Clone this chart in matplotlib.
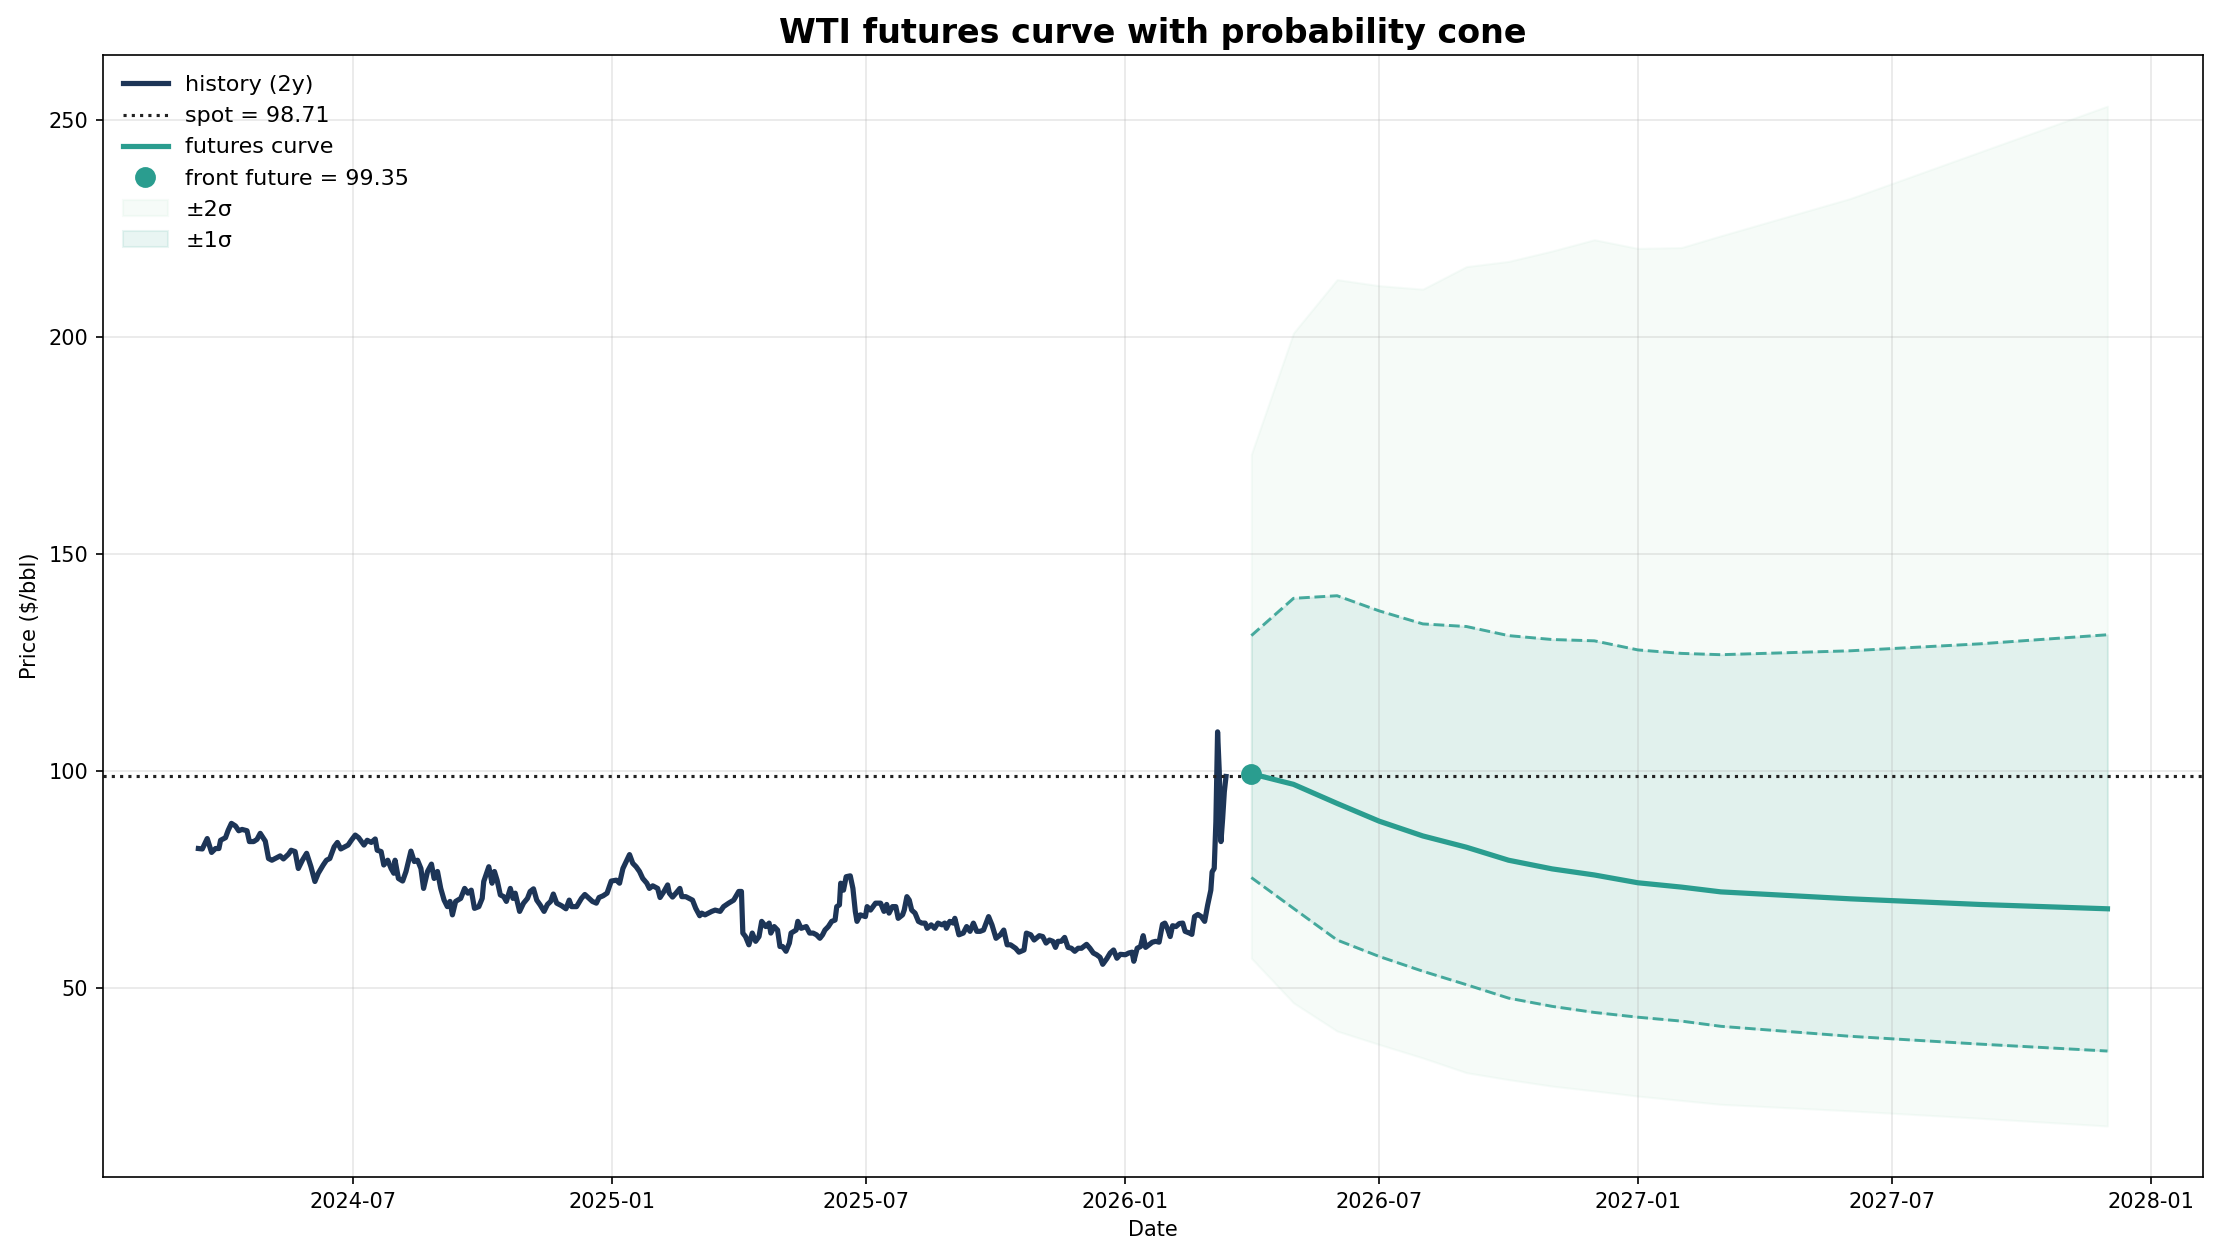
import numpy as np
import pandas as pd
import matplotlib
matplotlib.use('Agg')
import matplotlib.pyplot as plt
import matplotlib.dates as mdates

# history: days after start date, price in $/bbl
hist_start = pd.Timestamp('2024-03-13')
hist_day = [
    0.0, 2.8, 6.3, 9.4, 12.2, 14.6, 15.8, 19.3, 21.2, 23.5, 26.4, 28.7, 31.1, 34.6, 36.3, 39.3,
    41.7, 44.0, 47.6, 49.9, 52.3, 55.8, 58.2, 60.5, 64.1, 66.0, 68.8, 71.1, 74.0, 77.0, 80.1,
    82.9, 85.3, 88.8, 91.1, 93.5, 96.6, 98.9, 101.3, 104.1, 106.5, 108.8, 111.6, 114.0, 117.8,
    120.1, 123.0, 125.8, 127.2, 130.0, 131.9, 134.7, 137.1, 139.0, 139.9, 142.3, 145.3, 147.7,
    151.2, 153.6, 155.9, 158.3, 160.2, 163.0, 165.8, 167.7, 170.1, 172.4, 174.8, 177.1, 179.0,
    180.7, 183.0, 186.6, 189.4, 191.7, 194.1, 196.4, 199.5, 201.9, 203.0, 206.6, 208.9, 210.6,
    212.5, 214.8, 217.2, 219.1, 221.9, 223.8, 225.4, 228.5, 231.3, 234.1, 236.0, 238.4, 240.7,
    243.1, 245.9, 248.3, 250.6, 252.5, 254.9, 258.4, 261.5, 263.8, 265.5, 269.0, 272.5, 274.9,
    278.0, 280.3, 283.1, 285.0, 287.9, 290.7, 293.7, 297.3, 299.6, 302.0, 304.8, 306.7, 309.0,
    311.4, 313.8, 316.1, 319.0, 320.8, 323.2, 326.7, 328.4, 331.4, 333.8, 335.0, 337.3, 339.7,
    342.5, 343.9, 346.7, 349.1, 351.5, 353.8, 356.6,
    358.0, 360.4, 362.8, 365.2, 367.6, 371.2, 373.6, 377.2, 380.8, 384.4, 386.3, 387.3, 389.2,
    391.6, 394.0, 396.4, 398.8, 400.7, 403.6, 406.0, 407.2, 409.6, 412.0, 413.7, 415.6, 418.0,
    420.4, 421.6, 425.2, 426.4, 428.8, 432.4, 434.8, 437.3, 439.7, 442.1, 444.0, 445.7, 448.1,
    450.5, 452.9, 454.1, 456.0, 456.9, 458.9, 460.8, 463.7, 465.6, 467.3, 468.5, 470.9, 474.5,
    475.7, 478.1, 481.7, 485.3, 487.7, 489.6, 491.3, 493.7, 496.1, 497.8, 500.9, 502.1, 504.0,
    505.7, 507.4, 509.8, 512.2, 514.6, 517.0, 518.4, 521.3, 523.7, 526.1, 529.0, 530.9, 532.1,
    534.5, 536.9, 538.1, 541.0, 544.1, 546.5, 548.9, 551.3, 553.7, 556.1, 558.5, 562.1, 564.5,
    567.4, 570.5, 572.9, 575.3, 577.7, 581.3, 583.7, 587.3, 589.0, 592.1, 594.5, 598.2, 600.6,
    603.0, 605.4, 607.8, 609.7, 611.4, 613.8, 616.2, 618.6, 621.0, 623.4, 625.8, 628.2, 631.8,
    634.2, 636.6, 639.0, 641.4, 643.3, 646.2, 648.6, 651.0, 653.4, 655.8, 659.4, 661.8, 664.2,
    665.4, 667.8, 670.2, 672.1, 673.8, 676.2, 678.6, 681.0, 683.4, 685.8, 687.5, 689.4, 691.3,
    693.0, 695.4, 697.8, 700.2, 701.9, 705.0, 706.7, 708.6, 711.0, 713.4, 715.8, 717.9, 720.2,
    721.1, 722.6, 723.8, 725.0, 726.2, 727.4, 728.6, 729.8, 731.0,
]
hist_price = [
    82.1, 82.0, 84.4, 81.2, 82.1, 82.1, 84.0, 84.6, 86.3, 87.9, 87.3, 86.2, 86.5, 86.2, 83.7, 83.7,
    84.2, 85.6, 83.8, 79.8, 79.4, 80.0, 80.4, 79.7, 80.8, 81.7, 81.4, 77.5, 79.4, 81.0, 77.9,
    74.5, 76.4, 78.3, 79.4, 79.8, 82.5, 83.5, 82.0, 82.5, 82.9, 84.0, 85.2, 84.6, 82.9,
    84.0, 83.5, 84.3, 81.7, 81.4, 78.3, 79.4, 77.5, 76.4, 79.4, 75.2, 74.6, 76.8,
    81.5, 79.1, 79.4, 77.5, 72.9, 76.8, 78.5, 75.2, 76.8, 72.9, 70.2, 68.7, 69.9,
    66.8, 69.9, 70.6, 72.9, 71.8, 72.5, 68.3, 68.7, 70.6, 74.5, 77.9, 74.1, 76.8,
    74.8, 71.4, 71.0, 69.9, 72.9, 70.6, 71.8, 67.6, 69.5, 70.6, 72.2, 72.8, 70.2,
    69.1, 67.6, 69.2, 69.9, 71.6, 69.5, 68.9, 68.2, 70.2, 68.7, 68.7, 70.6, 71.5,
    70.6, 69.9, 69.5, 70.8, 71.2, 71.8, 74.6, 74.8, 74.1, 77.5, 79.4, 80.7, 78.7,
    77.9, 76.8, 75.2, 74.1, 72.9, 73.5, 72.9, 70.8, 72.3, 73.7, 71.8, 70.9, 71.8,
    72.9, 71.0, 71.0, 70.6, 70.2, 68.3, 66.6,
    67.2, 66.8, 67.2, 67.6, 67.9, 67.6, 68.7, 69.5, 70.2, 72.2, 72.2, 62.6, 61.8,
    59.9, 62.6, 60.7, 61.8, 65.3, 64.1, 64.9, 62.6, 64.1, 63.3, 59.5, 59.5, 58.4,
    60.3, 62.6, 63.3, 65.3, 63.7, 64.1, 62.6, 62.6, 62.2, 61.4, 62.2, 63.3, 64.1,
    65.3, 65.6, 68.7, 69.1, 74.1, 72.5, 75.6, 75.8, 72.9, 67.6, 65.3, 66.8, 66.4,
    68.7, 67.9, 69.5, 69.5, 67.6, 69.2, 67.2, 68.7, 68.7, 66.0, 66.8, 67.9, 71.0,
    70.2, 67.9, 67.2, 65.3, 64.9, 64.9, 63.7, 64.5, 63.7, 64.9, 64.5, 64.9, 63.7,
    65.3, 64.9, 66.0, 62.2, 62.6, 64.1, 63.0, 64.9, 63.0, 63.0, 63.3, 66.4, 64.5,
    61.4, 62.2, 63.3, 59.9, 59.9, 59.1, 58.2, 58.7, 62.6, 62.2, 61.0, 62.0, 61.8,
    60.3, 61.0, 60.7, 59.3, 60.7, 60.7, 61.6, 59.3, 59.1, 58.4, 59.1, 59.1, 60.0,
    59.1, 58.0, 57.6, 57.0, 55.4, 56.7, 58.0, 58.7, 56.8, 57.7, 57.6, 58.0, 58.2,
    56.1, 59.1, 59.5, 62.0, 59.3, 59.9, 60.5, 60.7, 60.5, 64.6, 64.9, 63.6, 61.8,
    64.3, 64.1, 64.8, 64.9, 63.0, 62.6, 62.3, 66.4, 66.9, 66.4, 65.3, 69.0, 72.5,
    76.7, 77.5, 88.3, 109.0, 99.8, 83.7, 89.0, 95.2, 98.71,
]

spot = 98.71
front_future = 99.35

# futures strip and probability cone
fut_dates = ['2026-04-01', '2026-05-01', '2026-06-01', '2026-07-01', '2026-08-01',
             '2026-09-01', '2026-10-01', '2026-11-01', '2026-12-01', '2027-01-01',
             '2027-02-01', '2027-03-01', '2027-06-01', '2027-09-01', '2027-12-01']
fut_curve = [99.35, 96.9, 92.5, 88.4, 85.0, 82.4, 79.4, 77.4, 76.0, 74.2, 73.2, 72.1, 70.5, 69.2, 68.2]
upper_1s = [131.2, 139.8, 140.4, 136.9, 133.9, 133.3, 131.2, 130.3, 130.0, 127.9, 127.1, 126.8, 127.7, 129.3, 131.4]
lower_1s = [75.4, 68.3, 61.0, 57.2, 53.8, 50.7, 47.6, 45.7, 44.3, 43.2, 42.3, 41.1, 38.8, 37.0, 35.4]
upper_2s = [173.0, 201.0, 213.3, 211.9, 211.1, 216.3, 217.5, 219.9, 222.5, 220.5, 220.7, 223.4, 232.0, 242.7, 253.3]
lower_2s = [56.8, 46.5, 40.0, 36.9, 33.8, 30.4, 28.8, 27.3, 26.2, 25.0, 24.0, 23.1, 21.6, 19.9, 18.1]

navy = '#1d3557'
teal = '#2a9d8f'
mint = '#95d5b2'

hist_dates = hist_start + pd.to_timedelta(np.array(hist_day), unit='D')
fut_dates = pd.to_datetime(fut_dates)

fig = plt.figure(figsize=(2218 / 150, 1259 / 150), dpi=150)
ax = fig.add_axes([0.0464, 0.0651, 0.9468, 0.8911])

band2 = ax.fill_between(fut_dates, lower_2s, upper_2s, color=mint, alpha=0.08, label='±2σ')
band1 = ax.fill_between(fut_dates, lower_1s, upper_1s, color=teal, alpha=0.1, label='±1σ')
ax.plot(fut_dates, upper_1s, color=teal, lw=1.4, ls='--', alpha=0.85)
ax.plot(fut_dates, lower_1s, color=teal, lw=1.4, ls='--', alpha=0.85)

h_hist, = ax.plot(hist_dates, hist_price, color=navy, lw=2.5, label='history (2y)')
h_spot = ax.axhline(spot, color='#222222', ls=':', lw=1.5, label=f'spot = {spot:.2f}')
h_curve, = ax.plot(fut_dates, fut_curve, color=teal, lw=2.5, label='futures curve')
h_front, = ax.plot(fut_dates[:1], [front_future], 'o', color=teal, ms=9, zorder=5,
                   label=f'front future = {front_future:.2f}')

ax.xaxis.set_major_locator(mdates.MonthLocator(bymonth=[1, 7]))
ax.xaxis.set_major_formatter(mdates.DateFormatter('%Y-%m'))
ax.set_yticks([50, 100, 150, 200, 250])
ax.grid(alpha=0.3)

ax.set_title('WTI futures curve with probability cone', fontsize=16, fontweight='bold')
ax.set_xlabel('Date')
ax.set_ylabel('Price ($/bbl)')
ax.legend(handles=[h_hist, h_spot, h_curve, h_front, band2, band1],
          loc='upper left', frameon=False, fontsize=10.7, labelspacing=0.5)

fig.savefig('out.png', dpi=150)
